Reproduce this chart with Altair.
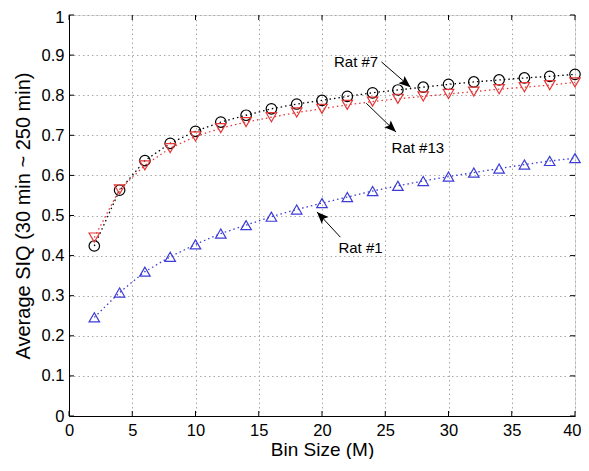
import altair as alt
import pandas as pd

bin_size = [2, 4, 6, 8, 10, 12, 14, 16, 18, 20, 22, 24, 26, 28, 30, 32, 34, 36, 38, 40]
rat7 = [0.424, 0.563, 0.637, 0.680, 0.710, 0.733, 0.750, 0.766, 0.778, 0.787,
        0.797, 0.806, 0.813, 0.820, 0.827, 0.833, 0.838, 0.843, 0.847, 0.852]
rat13 = [0.445, 0.565, 0.625, 0.668, 0.697, 0.718, 0.733, 0.745, 0.757, 0.766,
         0.776, 0.784, 0.791, 0.797, 0.803, 0.809, 0.815, 0.820, 0.825, 0.832]
rat1 = [0.246, 0.308, 0.360, 0.397, 0.428, 0.455, 0.476, 0.497, 0.515, 0.531,
        0.546, 0.561, 0.574, 0.586, 0.597, 0.607, 0.617, 0.627, 0.636, 0.643]

series_names = ["Rat #7", "Rat #13", "Rat #1"]
series_colors = ["#000000", "#e63838", "#3c3cd6"]
series_shapes = ["circle", "triangle-down", "triangle-up"]

x_ticks = [0, 5, 10, 15, 20, 25, 30, 35, 40]
y_ticks = [0, 0.1, 0.2, 0.3, 0.4, 0.5, 0.6, 0.7, 0.8, 0.9, 1.0]

# annotations
ann_labels = ["Rat #7", "Rat #13", "Rat #1"]
ann_text_x = [24.6, 25.5, 21.3]
ann_text_y = [0.883, 0.668, 0.419]
ann_text_align = ["right", "left", "left"]
arrow_x0 = [24.7, 23.5, 21.45]
arrow_y0 = [0.883, 0.780, 0.446]
arrow_x1 = [27.0, 25.85, 19.6]
arrow_y1 = [0.820, 0.708, 0.509]
arrow_angle = [130, 134, 316]

rows = []
for name, vals in zip(series_names, [rat7, rat13, rat1]):
    for x, v in zip(bin_size, vals):
        rows.append({"bin": x, "siq": v, "rat": name})
df = pd.DataFrame(rows)

ann = pd.DataFrame({
    "label": ann_labels, "tx": ann_text_x, "ty": ann_text_y, "align": ann_text_align,
    "x0": arrow_x0, "y0": arrow_y0, "x1": arrow_x1, "y1": arrow_y1, "angle": arrow_angle,
})
xt = pd.DataFrame({"t": x_ticks})
yt = pd.DataFrame({"t": y_ticks})

W, H = 506, 401
TL = 5  # inward tick length

xs = alt.Scale(domain=[0, 40], nice=False, zero=False)
ys = alt.Scale(domain=[0, 1], nice=False)
color_scale = alt.Scale(domain=series_names, range=series_colors)
shape_scale = alt.Scale(domain=series_names, range=series_shapes)

x_axis = alt.Axis(values=x_ticks, title="Bin Size (M)", grid=True,
                  gridDash=[1.5, 3], gridColor="#a8a8a8", gridWidth=1,
                  ticks=False, labelPadding=6, labelFontSize=16.5, titleFontSize=19,
                  labelAlign=alt.ConditionalAxisLabelAlign(
                      condition={"test": "datum.value == 40", "value": "right"}, value="center"),
                  labelOffset=alt.ConditionalAxisNumber(
                      condition={"test": "datum.value == 40", "value": 6}, value=0),
                  titleFontWeight="normal", titleX=W / 2, titleY=33.5, titleBaseline="middle",
                  domainColor="black", labelColor="black", titleColor="black")
y_axis = alt.Axis(values=y_ticks, format="~g", title="Average SIQ (30 min ~ 250 min)",
                  grid=True, gridDash=[1.5, 3], gridColor="#a8a8a8", gridWidth=1,
                  ticks=False, labelPadding=5, labelFontSize=16.5, titleFontSize=20,
                  labelOffset=alt.ConditionalAxisNumber(
                      condition={"test": "datum.value == 1", "value": 2}, value=0),
                  titleFontWeight="normal", titleX=-46, titleY=H / 2, titleBaseline="middle",
                  domainColor="black", labelColor="black", titleColor="black")

base = alt.Chart(df)
lines = base.mark_line(strokeDash=[1.5, 3], strokeWidth=1.3).encode(
    x=alt.X("bin:Q", scale=xs, axis=x_axis),
    y=alt.Y("siq:Q", scale=ys, axis=y_axis),
    color=alt.Color("rat:N", scale=color_scale, legend=None),
    detail="rat:N",
)
points = base.mark_point(filled=False, strokeWidth=1.2, size=110, opacity=1).encode(
    x="bin:Q", y="siq:Q",
    color=alt.Color("rat:N", scale=color_scale, legend=None),
    shape=alt.Shape("rat:N", scale=shape_scale, legend=None),
)

# inward ticks on all four sides (MATLAB box style)
tick_style = dict(color="black", strokeWidth=1)
xb = alt.Chart(xt).mark_rule(**tick_style).encode(
    x="t:Q", y=alt.value(H), y2=alt.value(H - TL))
xtop = alt.Chart(xt).mark_rule(**tick_style).encode(
    x="t:Q", y=alt.value(0), y2=alt.value(TL))
yl = alt.Chart(yt).mark_rule(**tick_style).encode(
    y="t:Q", x=alt.value(0), x2=alt.value(TL))
yr = alt.Chart(yt).mark_rule(**tick_style).encode(
    y="t:Q", x=alt.value(W), x2=alt.value(W - TL))

abase = alt.Chart(ann)
arrow_lines = abase.mark_rule(color="black", strokeWidth=1).encode(
    x="x0:Q", y="y0:Q", x2="x1:Q", y2="y1:Q")
heads = abase.mark_point(shape="M0,0 L-0.4,1 L0,0.8 L0.4,1 Z", filled=True, color="black",
                         size=560, opacity=1, strokeWidth=0).encode(
    x="x1:Q", y="y1:Q", angle=alt.Angle("angle:Q", scale=None))
texts_r = abase.transform_filter(alt.datum.align == "right").mark_text(
    align="right", baseline="middle", fontSize=15, color="black", dx=-2).encode(
    x="tx:Q", y="ty:Q", text="label:N")
texts_l = abase.transform_filter(alt.datum.align == "left").mark_text(
    align="left", baseline="middle", fontSize=15, color="black").encode(
    x="tx:Q", y="ty:Q", text="label:N")

chart = alt.layer(lines, points, xb, xtop, yl, yr, arrow_lines, heads, texts_r, texts_l).properties(
    width=W, height=H,
    autosize=alt.AutoSizeParams(type="none"),
    padding={"left": 61, "top": 7, "right": 6, "bottom": 43},
).configure_view(stroke="black", strokeWidth=1).configure(
    font="Liberation Sans")

chart.save("out.html", embed_options={"renderer": "svg", "actions": False})
